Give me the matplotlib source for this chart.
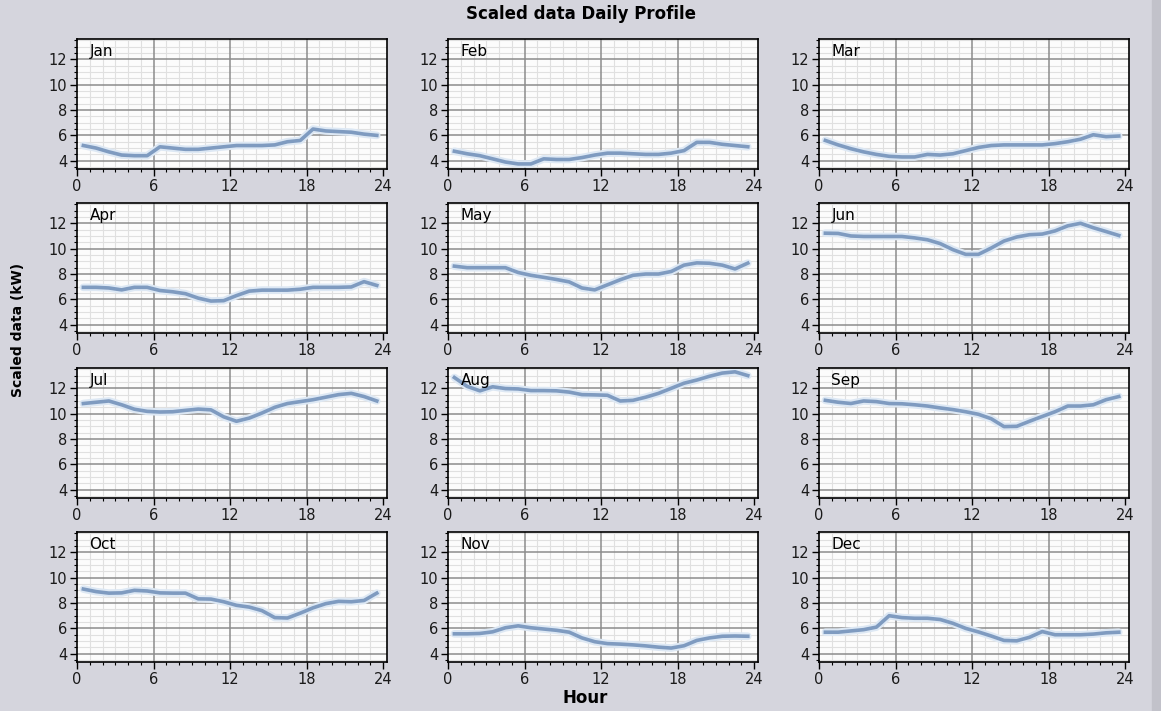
import numpy as np
import matplotlib
matplotlib.use("Agg")
import matplotlib.pyplot as plt
from matplotlib.ticker import MultipleLocator
from matplotlib.patches import Rectangle

plt.rcParams['font.family'] = ['DejaVu Sans']

hours = [h + 0.5 for h in range(24)]
months = ["Jan", "Feb", "Mar", "Apr", "May", "Jun",
          "Jul", "Aug", "Sep", "Oct", "Nov", "Dec"]

jan = [5.2, 5.0, 4.7, 4.45, 4.4, 4.4, 5.1, 5.0, 4.9, 4.9, 5.0, 5.1,
       5.2, 5.2, 5.2, 5.25, 5.5, 5.6, 6.5, 6.35, 6.3, 6.25, 6.1, 6.0]
feb = [4.75, 4.55, 4.4, 4.15, 3.9, 3.75, 3.75, 4.15, 4.1, 4.1, 4.25, 4.45,
       4.6, 4.6, 4.55, 4.5, 4.5, 4.6, 4.8, 5.45, 5.45, 5.3, 5.2, 5.1]
mar = [5.6, 5.25, 4.95, 4.7, 4.5, 4.35, 4.3, 4.3, 4.5, 4.45, 4.55, 4.8,
       5.05, 5.2, 5.25, 5.25, 5.25, 5.25, 5.35, 5.5, 5.7, 6.05, 5.9, 5.95]
apr = [6.95, 6.95, 6.9, 6.75, 6.95, 6.95, 6.7, 6.6, 6.45, 6.1, 5.87, 5.9,
       6.3, 6.65, 6.73, 6.73, 6.73, 6.8, 6.95, 6.95, 6.95, 6.98, 7.4, 7.1]
may = [8.62, 8.5, 8.5, 8.5, 8.5, 8.12, 7.9, 7.74, 7.57, 7.38, 6.9, 6.75,
       7.15, 7.55, 7.9, 8.0, 8.0, 8.2, 8.7, 8.88, 8.85, 8.7, 8.4, 8.86]
jun = [11.22, 11.2, 11.0, 10.96, 10.96, 10.96, 10.96, 10.85, 10.7, 10.4, 9.92, 9.55,
       9.55, 10.05, 10.6, 10.92, 11.1, 11.15, 11.4, 11.8, 12.0, 11.65, 11.35, 11.04]
jul = [10.8, 10.9, 11.0, 10.7, 10.35, 10.18, 10.13, 10.15, 10.26, 10.36, 10.3, 9.75,
       9.4, 9.65, 10.05, 10.5, 10.8, 10.95, 11.1, 11.3, 11.5, 11.6, 11.35, 11.0]
aug = [12.85, 12.15, 11.8, 12.12, 11.98, 11.95, 11.82, 11.82, 11.8, 11.7, 11.5, 11.48,
       11.45, 11.0, 11.05, 11.3, 11.6, 12.0, 12.4, 12.65, 12.95, 13.2, 13.3, 13.0]
sep = [11.05, 10.9, 10.8, 11.0, 10.95, 10.8, 10.78, 10.7, 10.6, 10.45, 10.32, 10.15,
       9.95, 9.6, 8.98, 9.0, 9.4, 9.78, 10.15, 10.6, 10.6, 10.7, 11.1, 11.35]
oct_ = [9.1, 8.9, 8.78, 8.8, 9.0, 8.95, 8.8, 8.78, 8.78, 8.33, 8.31, 8.1,
        7.82, 7.68, 7.4, 6.85, 6.82, 7.2, 7.62, 7.95, 8.13, 8.1, 8.2, 8.78]
nov = [5.57, 5.57, 5.6, 5.73, 6.05, 6.2, 6.05, 5.95, 5.85, 5.7, 5.25, 4.95,
       4.8, 4.76, 4.7, 4.62, 4.52, 4.45, 4.63, 5.05, 5.25, 5.38, 5.4, 5.38]
dec = [5.7, 5.7, 5.8, 5.9, 6.1, 7.0, 6.85, 6.8, 6.8, 6.7, 6.4, 6.0,
       5.72, 5.4, 5.05, 5.02, 5.3, 5.75, 5.5, 5.5, 5.5, 5.55, 5.65, 5.7]
series = [jan, feb, mar, apr, may, jun, jul, aug, sep, oct_, nov, dec]

x_ticks = [0, 6, 12, 18, 24]
y_ticks = [4, 6, 8, 10, 12]
x_minor = [h for h in range(1, 25) if h % 6]
y_minor = [v / 2 for v in range(7, 28) if v % 4]

W, H = 1161, 711
fig = plt.figure(figsize=(W / 100, H / 100), dpi=100)
fig.patch.set_facecolor('#d5d5dd')
fig.patches.append(Rectangle((1152 / W, 0), 9 / W, 1, transform=fig.transFigure,
                             color='#c2c2ca', zorder=0))

col_left = [77, 448, 819]
row_top = [39, 203, 368, 532]
aw, ah = 310, 130

for i, (name, vals) in enumerate(zip(months, series)):
    r, c = divmod(i, 3)
    ax = fig.add_axes([col_left[c] / W, 1 - (row_top[r] + ah) / H, aw / W, ah / H])
    ax.set_facecolor('#fcfcfc')
    ax.set_xlim(0, 24.3)
    ax.set_ylim(3.35, 13.6)
    ax.set_xticks(x_ticks)
    ax.set_yticks(y_ticks)
    ax.xaxis.set_minor_locator(MultipleLocator(1))
    ax.yaxis.set_minor_locator(MultipleLocator(0.5))
    ax.vlines(x_minor, 3.35, 13.6, colors='#e0e0e0', linewidth=0.8, zorder=1)
    ax.hlines(y_minor, 0, 24.3, colors='#e0e0e0', linewidth=0.8, zorder=1)
    ax.vlines(x_ticks[1:4], 3.35, 13.6, colors='#8c8c8c', linewidth=1.1, zorder=2)
    ax.hlines(y_ticks, 0, 24.3, colors='#8c8c8c', linewidth=1.1, zorder=2)
    ax.tick_params(which='major', direction='out', length=5, width=1,
                   labelsize=10.5, pad=2, color='black', labelcolor='#1a1a1a')
    ax.tick_params(which='minor', direction='out', length=2.5, width=0.8, color='black')
    for sp in ax.spines.values():
        sp.set_color('black')
        sp.set_linewidth(1.2)
        sp.set_zorder(6)
    ax.plot(hours, vals, color='#dde8f4', linewidth=5.5, solid_capstyle='round', zorder=3)
    ax.plot(hours, vals, color='#7f9bc0', linewidth=2.6, zorder=4)
    ax.text(0.04, 0.965, name, transform=ax.transAxes, ha='left', va='top',
            fontsize=11, zorder=5)

fig.text(581 / W, 1 - 14 / H, "Scaled data Daily Profile", ha='center', va='center',
         fontsize=12, fontweight='bold')
fig.text(18 / W, 1 - 330 / H, "Scaled data (kW)", ha='center', va='center',
         rotation=90, fontsize=10, fontweight='bold')
fig.text(585 / W, 1 - 698 / H, "Hour", ha='center', va='center',
         fontsize=12, fontweight='bold')

fig.savefig("out.png", dpi=100, facecolor=fig.get_facecolor())
